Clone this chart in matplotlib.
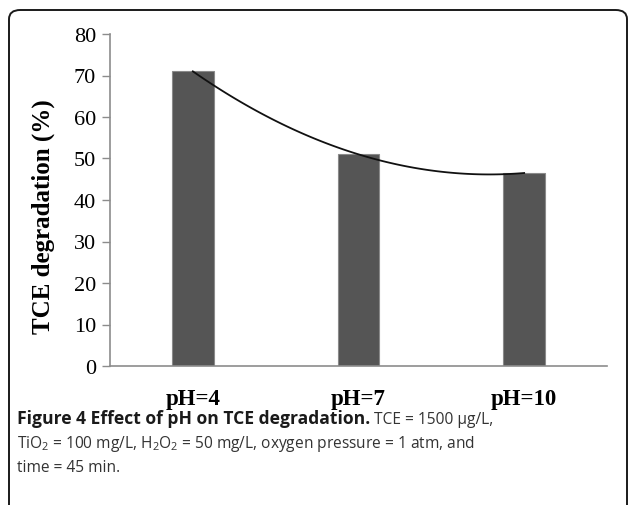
import numpy as np
import matplotlib
matplotlib.use("Agg")
import matplotlib.pyplot as plt
from matplotlib.patches import FancyBboxPatch

# data
categories = ["pH=4", "pH=7", "pH=10"]
degradation = [71.0, 51.0, 46.5]
yticks = [0, 10, 20, 30, 40, 50, 60, 70, 80]

plt.rcParams['mathtext.fontset'] = 'custom'
plt.rcParams['mathtext.rm'] = 'Open Sans'
plt.rcParams['mathtext.default'] = 'regular'

fig = plt.figure(figsize=(6.29, 5.06), dpi=100)

# rounded frame round the whole figure
frame = FancyBboxPatch((9/629, -0.1), 618/629, 1 - 11/506 + 0.1,
                       boxstyle="round,pad=0,rounding_size=0.018",
                       transform=fig.transFigure, fill=False,
                       edgecolor='#1a1a1a', linewidth=1.4)
fig.patches.append(frame)

ax = fig.add_axes([110/629, 1 - 367/506, 497/629, 332/506])
x = np.arange(len(categories))
ax.bar(x, degradation, width=0.25, color='#555555', edgecolor='#8a8a8a', linewidth=0.8, zorder=2)

# 2nd order trendline through the bar tops
coef = np.polyfit(x, degradation, 2)
xs = np.linspace(0, 2, 100)
ax.plot(xs, np.polyval(coef, xs), color='#111111', linewidth=1.3, zorder=3)

ax.set_xlim(-0.5, 2.5)
ax.set_ylim(0, 80)
ax.set_yticks(yticks)
ax.set_xticks(x)
ax.set_xticklabels(categories, fontfamily='Liberation Serif', fontweight='bold', fontsize=16.5)
for lab in ax.get_yticklabels():
    lab.set_fontfamily('Liberation Serif')
    lab.set_fontsize(16)
ax.tick_params(axis='y', length=6, width=1, color='#8c8c8c', pad=4)
ax.tick_params(axis='x', length=0, pad=16)
for s in ['top', 'right']:
    ax.spines[s].set_visible(False)
for s in ['left', 'bottom']:
    ax.spines[s].set_color('#8c8c8c')
    ax.spines[s].set_linewidth(1.2)
ax.set_ylabel("TCE degradation (%)", fontfamily='Liberation Serif', fontweight='bold',
              fontsize=18)
ax.yaxis.set_label_coords(-0.11, 0.452)

# caption
cap = fig.text(17/629, 1 - 424/506, "Figure 4 Effect of pH on TCE degradation.",
               fontfamily='Open Sans', fontweight='bold', fontsize=12.6, color='#1a1a1a',
               va='baseline')
ax.annotate(" TCE = 1500 µg/L,", xy=(1, 0), xycoords=cap, va='bottom',
            fontfamily='Open Sans', fontsize=11.2, color='#333333', annotation_clip=False)
fig.text(17/629, 1 - 448/506,
         "TiO$_2$ = 100 mg/L, H$_2$O$_2$ = 50 mg/L, oxygen pressure = 1 atm, and",
         fontfamily='Open Sans', fontsize=11.2, color='#333333', va='baseline')
fig.text(17/629, 1 - 472/506, "time = 45 min.",
         fontfamily='Open Sans', fontsize=11.2, color='#333333', va='baseline')

fig.savefig("out.png", dpi=100)
